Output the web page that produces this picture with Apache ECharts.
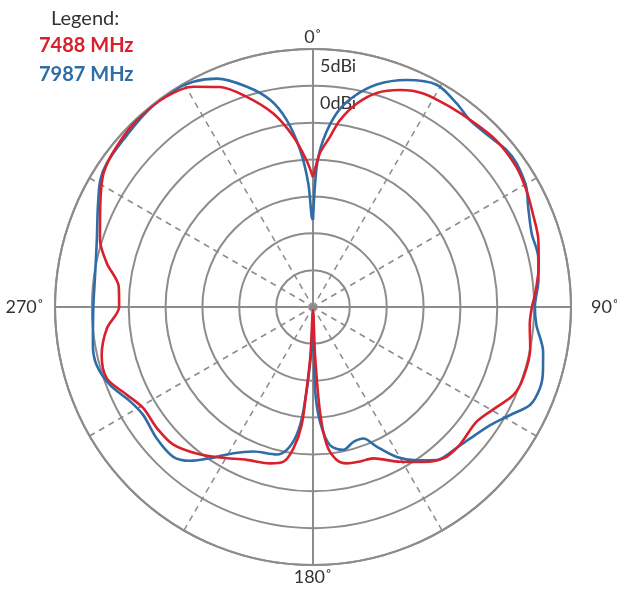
<!DOCTYPE html>
<html>
<head>
<meta charset="utf-8">
<script src="https://cdn.jsdelivr.net/npm/echarts@6/dist/echarts.min.js"></script>
<style>
html,body{margin:0;padding:0;background:#fff;}
#chart{width:617px;height:589px;}
</style>
</head>
<body>
<div id="chart"></div>
<script>
// Radial scale (dBi) and angle tick labels
var radialMin = -30, radialMax = 5, radialStep = 5;
var angleTickLabels = {0: '0˚', 90: '90˚', 180: '180˚', 270: '270˚'};
var radialTickLabels = {5: '5dBi', 0: '0dBi'};
var legendTitle = 'Legend:';

// 7488 MHz (red)
var redAngles = [0, 2.6, 5.7, 8.2, 12.1, 16.6, 21.8, 27.3, 34.4, 40.9, 47.7, 55.4, 61.3, 67, 73.4, 79.9, 86.5, 90,
  94.7, 100.8, 108.7, 113.7, 118.5, 125, 133.2, 139.3, 144.6, 150.6, 158.3, 163.1, 167.8, 171.2, 174.3, 176.2, 177.6, 180,
  183, 184.4, 185.5, 187.9, 190.9, 195.4, 203.4, 211.7, 218.5, 225.4, 232.2, 239.2, 244.7, 250.9, 257.2, 264.1, 270,
  276, 282, 287.5, 295.2, 302.5, 309.2, 317.7, 325.2, 331.5, 337.1, 342.5, 348.4, 353.4, 357.5, 360];
var redGain = [-12.4, -9.1, -6.8, -4.4, -1.8, 0.3, 1.7, 2.6, 2.9, 3.2, 3.6, 3.5, 3.0, 2.4, 1.9, 1.1, 0.2, -0.3,
  -0.5, 0.0, 0.1, -0.3, -1.6, -2.9, -2.7, -2.9, -4.2, -5.9, -7.9, -8.1, -8.3, -9.0, -11.2, -15.8, -23.5, -29.6,
  -23.5, -18.9, -13.9, -10.6, -8.6, -8.0, -7.4, -6.0, -4.6, -3.4, -3.2, -3.2, -2.1, -0.4, -0.6, -1.9, -3.7,
  -3.5, -1.4, 0.3, 1.9, 3.7, 4.4, 4.9, 4.8, 4.0, 2.4, -0.1, -3.2, -6.7, -10.1, -12.4];

// 7987 MHz (blue)
var blueAngles = [0, 1.5, 3.5, 7, 10.8, 16, 22.4, 29.1, 35.2, 40, 46.1, 51, 54.8, 60.6, 65, 71.4, 77.4, 83.2, 90,
  94.6, 101, 105.7, 109.7, 114.3, 118.7, 123.7, 129.9, 134.5, 141, 145.9, 150.8, 155.5, 159, 163.3, 168, 173, 176.5, 178.6, 180,
  182.5, 185.3, 187.3, 190.4, 193.8, 202.4, 208.6, 214.2, 218.6, 223, 230, 237.5, 242.6, 249, 255, 260.2, 270,
  278.8, 287.2, 295, 300.8, 304.9, 311.4, 319.8, 327.2, 332, 337.2, 343.3, 348.3, 352, 355.3, 357.8, 359.2, 360];
var blueGain = [-18.2, -11.0, -7.3, -3.5, -1.0, 1.4, 3.3, 4.5, 3.8, 3.1, 3.3, 3.8, 3.8, 3.2, 2.2, 1.3, 1.3, 0.8, 0.1,
  0.4, 1.8, 2.4, 2.7, 2.3, 0.5, -1.1, -2.2, -2.7, -3.3, -4.9, -6.7, -9.2, -10.9, -10.9, -10.2, -11.1, -14.4, -19.0, -29.3,
  -23.2, -15.8, -12.5, -10.3, -9.4, -8.8, -7.4, -5.2, -3.3, -2.2, -2.3, -2.7, -2.1, -0.5, 0.4, 0.3, -0.2,
  -0.1, 0.7, 2.2, 3.6, 4.1, 4.3, 4.8, 4.9, 4.6, 3.6, 1.2, -1.3, -4.4, -8.6, -13.2, -17.8, -18.2];

var seriesNames = ['7488 MHz', '7987 MHz'];
var redColor = '#d9202d', blueColor = '#2e6da6';
var gridColor = '#8c8c8c';
var fontFam = 'Lato, "Open Sans", sans-serif';

function zip(g, a) { return g.map(function (v, i) { return [v, a[i]]; }); }

var chart = echarts.init(document.getElementById('chart'), null, {renderer: 'canvas'});
chart.setOption({
  animation: false,
  backgroundColor: '#fff',
  title: {
    text: legendTitle, left: 46, top: 4,
    textStyle: {fontFamily: fontFam, fontSize: 20, fontWeight: 'normal', color: '#333'}
  },
  legend: {
    orient: 'vertical', left: 34, top: 31, icon: 'none', itemWidth: 0, itemHeight: 20, itemGap: 9,
    selectedMode: false,
    data: [
      {name: seriesNames[0], textStyle: {color: redColor}},
      {name: seriesNames[1], textStyle: {color: blueColor}}
    ],
    textStyle: {fontFamily: fontFam, fontSize: 20, fontWeight: 'bold', padding: [0, 0, 0, -5]}
  },
  polar: [
    {center: [313, 307], radius: 258},
    {center: [313, 307], radius: 258}
  ],
  angleAxis: [
    {
      polarIndex: 0, type: 'value', min: 0, max: 360, interval: 30, startAngle: 90, clockwise: true,
      axisLine: {show: true, lineStyle: {color: gridColor, width: 2}},
      axisTick: {show: false}, axisLabel: {show: false},
      splitLine: {show: true, lineStyle: {color: gridColor, width: 1.5, type: [6, 5]}}
    },
    {
      polarIndex: 1, type: 'value', min: 0, max: 360, interval: 90, startAngle: 90, clockwise: true,
      axisLine: {show: false}, axisTick: {show: false},
      axisLabel: {
        show: true, margin: 3, fontFamily: fontFam, fontSize: 18, color: '#333',
        formatter: function (v) {
          var t = angleTickLabels[v] || '';
          if (v === 90) return '{r|' + t + '}';
          if (v === 270) return '{l|' + t + '}';
          return t;
        },
        rich: {
          r: {fontFamily: fontFam, fontSize: 18, color: '#333', padding: [0, 0, 0, 17]},
          l: {fontFamily: fontFam, fontSize: 18, color: '#333', padding: [0, 8, 0, 0]}
        }
      },
      splitLine: {show: true, lineStyle: {color: gridColor, width: 2}}
    }
  ],
  radiusAxis: [
    {
      polarIndex: 0, type: 'value', min: radialMin, max: radialMax, interval: radialStep,
      axisLine: {show: false}, axisTick: {show: false},
      axisLabel: {
        show: true, margin: 6, fontFamily: fontFam, fontSize: 18, color: '#333',
        align: 'left', verticalAlign: 'top', padding: [8, 0, 0, 13],
        formatter: function (v) { return radialTickLabels[v] || ''; }
      },
      splitLine: {show: true, lineStyle: {color: gridColor, width: 2}}
    },
    {
      polarIndex: 1, type: 'value', min: radialMin, max: radialMax, interval: radialStep,
      axisLine: {show: false}, axisTick: {show: false}, axisLabel: {show: false}, splitLine: {show: false}
    }
  ],
  series: [
    {
      name: seriesNames[1], type: 'line', coordinateSystem: 'polar', polarIndex: 0,
      data: zip(blueGain, blueAngles), showSymbol: false, smooth: 0.3,
      lineStyle: {color: blueColor, width: 2.6}, itemStyle: {color: blueColor}, z: 3
    },
    {
      name: seriesNames[0], type: 'line', coordinateSystem: 'polar', polarIndex: 0,
      data: zip(redGain, redAngles), showSymbol: false, smooth: 0.3,
      lineStyle: {color: redColor, width: 2.6}, itemStyle: {color: redColor}, z: 4
    }
  ]
});
</script>
</body>
</html>
